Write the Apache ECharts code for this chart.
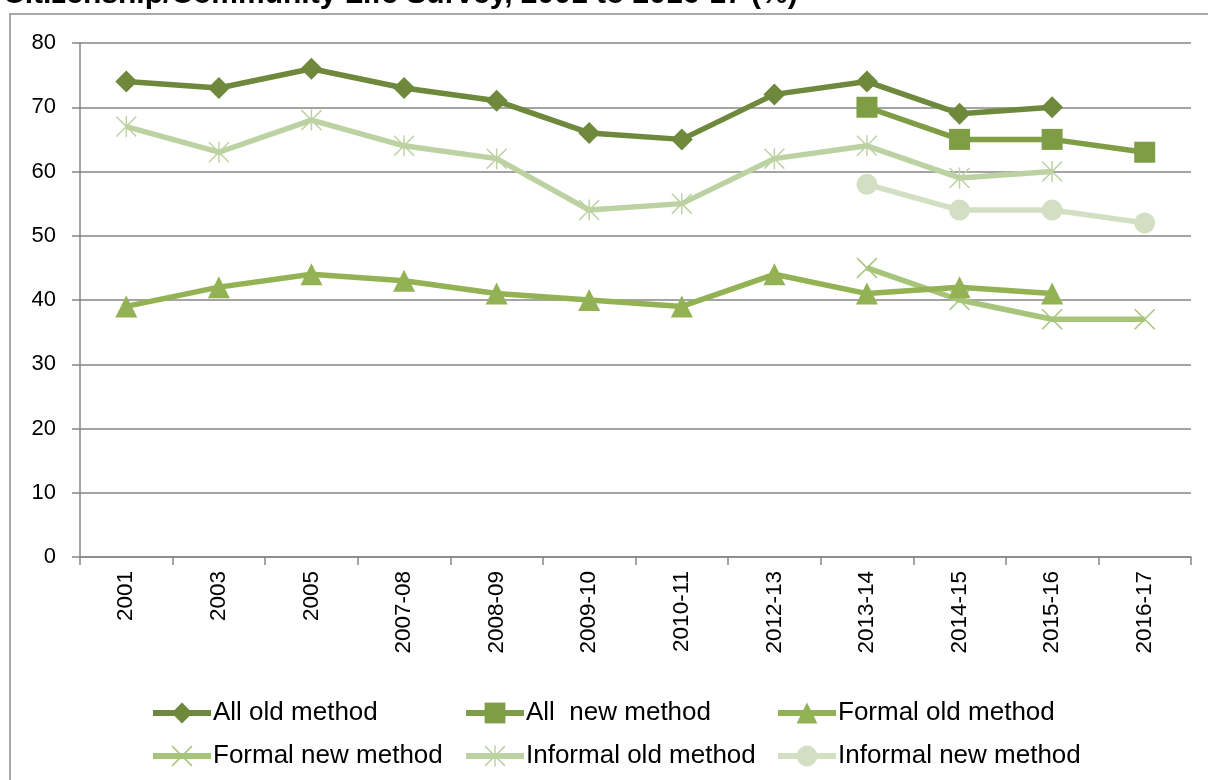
<!DOCTYPE html>
<html>
<head>
<meta charset="utf-8">
<script src="https://cdn.jsdelivr.net/npm/echarts@6/dist/echarts.min.js"></script>
<style>
  html, body { margin: 0; padding: 0; background: #fff; }
  #chart { width: 1208px; height: 780px; }
</style>
</head>
<body>
<div id="chart"></div>
<script>
const years = ["2001", "2003", "2005", "2007-08", "2008-09", "2009-10", "2010-11", "2012-13", "2013-14", "2014-15", "2015-16", "2016-17"];
const allOld = [74, 73, 76, 73, 71, 66, 65, 72, 74, 69, 70, null];
const allNew = [null, null, null, null, null, null, null, null, 70, 65, 65, 63];
const formalOld = [39, 42, 44, 43, 41, 40, 39, 44, 41, 42, 41, null];
const formalNew = [null, null, null, null, null, null, null, null, 45, 40, 37, 37];
const informalOld = [67, 63, 68, 64, 62, 54, 55, 62, 64, 59, 60, null];
const informalNew = [null, null, null, null, null, null, null, null, 58, 54, 54, 52];
const yTicks = [0, 10, 20, 30, 40, 50, 60, 70, 80];

const font = "Liberation Sans, Arial, sans-serif";
const grey = "#868686";

// x and asterisk markers drawn as thin filled paths
const crossPath = "path://M0,1L1,0L10,9L19,0L20,1L11,10L20,19L19,20L10,11L1,20L0,19L9,10Z";
const starPath = crossPath + "M9.3,0L10.7,0L10.7,20L9.3,20Z";

const mkSeries = (name, data, color, symbol, size) => ({
  name,
  type: "line",
  data,
  connectNulls: false,
  symbol,
  symbolSize: size,
  lineStyle: { color, width: 5.5 },
  itemStyle: { color },
  animation: false
});

const chart = echarts.init(document.getElementById("chart"));

const legendBase = {
  orient: "vertical",
  top: 700,
  padding: 0,
  itemWidth: 58,
  itemHeight: 26,
  itemGap: 17,
  lineStyle: { width: 6 },
  textStyle: { fontFamily: font, fontSize: 26, color: "#000", padding: [0, 0, 0, -3] }
};

chart.setOption({
  backgroundColor: "#fff",
  textStyle: { fontFamily: font },
  graphic: [
    {
      type: "rect",
      shape: { x: 10, y: 14, width: 1400, height: 900 },
      style: { fill: "none", stroke: "#8c8c8c", lineWidth: 1.5 },
      silent: true
    },
    {
      type: "text",
      x: 3,
      y: 10,
      style: {
        text: "Citizenship/Community Life Survey, 2001 to 2016-17 (%)",
        font: "bold 30px " + font,
        fill: "#000",
        verticalAlign: "bottom"
      }
    }
  ],
  grid: { left: 80, right: 17, top: 43, bottom: 223 },
  legend: [
    Object.assign({ left: 150, data: ["All old method", "Formal new method"] }, legendBase),
    Object.assign({ left: 463, data: ["All  new method", "Informal old method"] }, legendBase),
    Object.assign({ left: 775, data: ["Formal old method", "Informal new method"] }, legendBase)
  ],
  xAxis: {
    type: "category",
    data: years,
    boundaryGap: true,
    axisLine: { lineStyle: { color: grey, width: 1.5 } },
    axisTick: { show: true, length: 8, lineStyle: { color: grey, width: 1.5 } },
    axisLabel: { rotate: 90, fontSize: 22.5, color: "#000", margin: 14, interval: 0 }
  },
  yAxis: {
    type: "value",
    min: yTicks[0],
    max: yTicks[yTicks.length - 1],
    interval: 10,
    axisLine: { show: true, lineStyle: { color: grey, width: 1.5 } },
    axisTick: { show: true, length: 8, lineStyle: { color: grey, width: 1.5 } },
    axisLabel: { fontSize: 22, color: "#000", margin: 24 },
    splitLine: { lineStyle: { color: grey, width: 1.5 } }
  },
  series: [
    mkSeries("Informal new method", informalNew, "#d3dfc2", "circle", 21),
    mkSeries("Informal old method", informalOld, "#bcd2a2", starPath, 21),
    mkSeries("Formal new method", formalNew, "#a6c57a", crossPath, 21),
    mkSeries("Formal old method", formalOld, "#92b254", "triangle", 22),
    mkSeries("All  new method", allNew, "#7f9d45", "rect", 21),
    mkSeries("All old method", allOld, "#6e883c", "diamond", 22)
  ]
});
</script>
</body>
</html>
